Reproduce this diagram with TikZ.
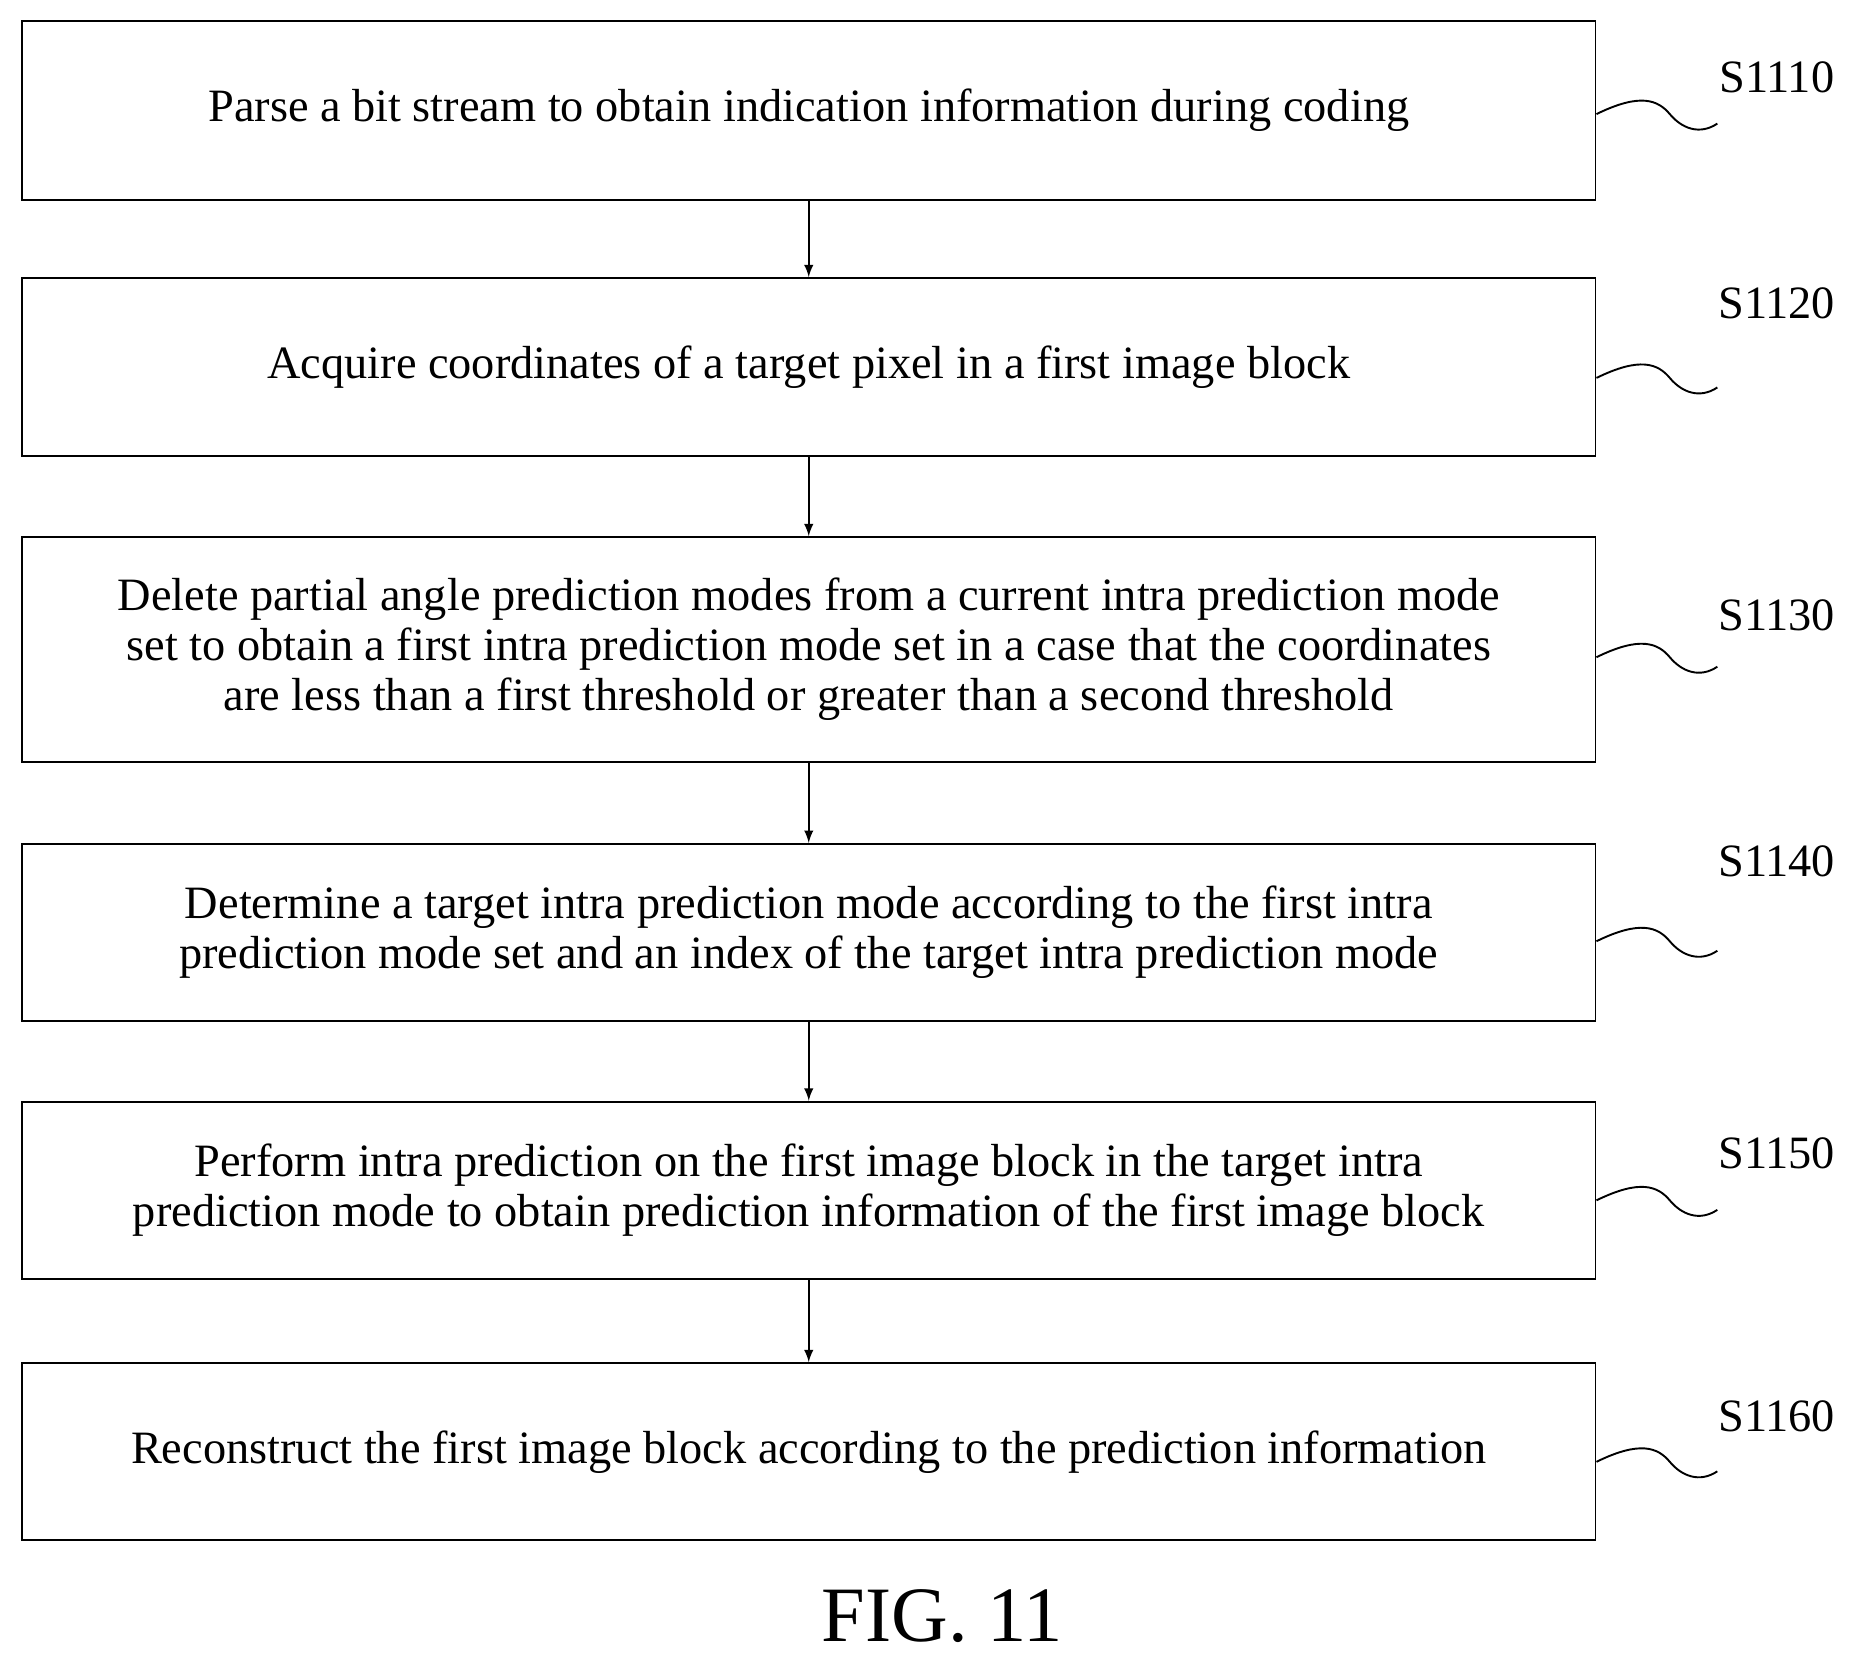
\documentclass[tikz,border=0pt]{standalone}
\usepackage{fontspec}
\setmainfont{Liberation Serif}
\begin{document}
\begin{tikzpicture}[x=0.5pt,y=-0.5pt,thick,
  stepbox/.style={draw,minimum width=662pt,inner sep=0pt,align=center,
    font=\fontsize{19.5pt}{21pt}\selectfont},
  lab/.style={font=\fontsize{19.5pt}{21pt}\selectfont},
  flow/.style={->,>=latex}]
	\useasboundingbox (0,0) rectangle (1560,1392);
	\def\xm{680.5}	%centre of boxes
	
	%BOXES
	\node[stepbox,minimum height=75pt] (s1) at (\xm,93)  {Parse a bit stream to obtain indication information during coding};
	\node[stepbox,minimum height=75pt] (s2) at (\xm,309) {Acquire coordinates of a target pixel in a first image block};
	\node[stepbox,minimum height=94.5pt] (s3) at (\xm,546.5) {Delete partial angle prediction modes from a current intra prediction mode\\ set to obtain a first intra prediction mode set in a case that the coordinates\\ are less than a first threshold or greater than a second threshold};
	\node[stepbox,minimum height=74.5pt] (s4) at (\xm,784.5) {Determine a target intra prediction mode according to the first intra\\ prediction mode set and an index of the target intra prediction mode};
	\node[stepbox,minimum height=74.5pt] (s5) at (\xm,1001.5) {Perform intra prediction on the first image block in the target intra\\ prediction mode to obtain prediction information of the first image block};
	\node[stepbox,minimum height=74.5pt] (s6) at (\xm,1221.5) {Reconstruct the first image block according to the prediction information};
	
	%ARROWS
	\foreach \a/\b in {s1/s2,s2/s3,s3/s4,s4/s5,s5/s6}
		\draw[flow] (\a.south) -- (\b.north);
	
	%STEP LABELS
	\foreach \n/\t/\ly/\sy in {s1/S1110/65/96, s2/S1120/255/318, s3/S1130/518/553, s4/S1140/725/792, s5/S1150/970/1010, s6/S1160/1192/1230}{
		\node[lab] (l\n) at (1495,\ly) {\t};
		\draw (\n.east |- 0,\sy) .. controls (1380,\sy-18) and (1395,\sy-12) .. (1405,\sy) .. controls (1415,\sy+12) and (1430,\sy+18) .. (1445,\sy+8);
	}
	
	%CAPTION
	\node[font=\fontsize{33pt}{36pt}\selectfont] (cap) at (793,1360) {FIG. 11};
\end{tikzpicture}
\end{document}
